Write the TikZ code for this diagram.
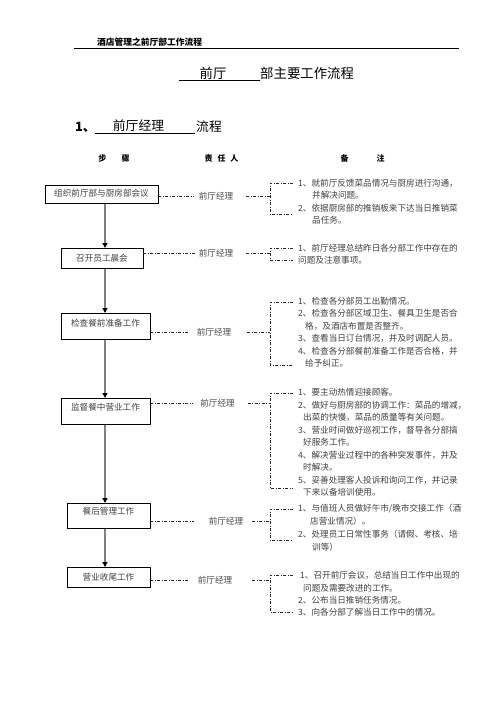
\documentclass[tikz,border=0pt]{standalone}
\usepackage{fontspec}
\setmainfont{Noto Sans CJK SC}
\usetikzlibrary{arrows.meta,positioning,calc}

\begin{document}
\begin{tikzpicture}[x=1pt, y=-1pt,
                    every node/.style = {inner sep=0pt},
                    stepbox/.style = {rectangle, draw=black, line width=0.6pt, anchor=north,
                            text=black!75, font=\fontsize{8.6}{10}\selectfont},
                    person/.style = {text=black!70, font=\fontsize{8.6}{10}\selectfont},
                    remark/.style = {anchor=north west, align=left, text=black!75,
                            font=\fontsize{8.6}{#1}\selectfont},
                    remark/.default = 12.4,
                    flow/.style = {draw=black!50, line width=1.8pt, -{Triangle[length=5pt,width=5pt,black]}},
                    linkline/.style = {draw=black!85, line width=0.5pt,
                            dash pattern=on 3pt off 1.5pt on 1pt off 1.5pt},
                    colhead/.style = {font=\fontsize{8}{10}\selectfont\bfseries} ]

                \useasboundingbox (0,0) rectangle (496,702);
                \fill[white] (0,0) rectangle (496,702);

                % page head
                \node [font=\fontsize{8.75}{10}\selectfont\bfseries] (pagehead) at (149.5,42) {酒店管理之前厅部工作流程};
                \draw [line width=0.6pt] (74,48) -- (459,48);

                % title
                \node [font=\fontsize{13.4}{15}\selectfont] (titledept) at (213,73.5) {前厅};
                \node [font=\fontsize{13.4}{15}\selectfont, anchor=west] (titlerest) at (260,73.5) {部主要工作流程};
                \draw [line width=0.6pt] (179,80) -- (260,80);

                % section
                \node [font=\fontsize{12.8}{15}\selectfont\bfseries, anchor=west] (secno) at (75,127) {1、};
                \node [font=\fontsize{12.8}{15}\selectfont] (secrole) at (138.5,126) {前厅经理};
                \node [font=\fontsize{12.8}{15}\selectfont, anchor=west] (secrest) at (196,126.5) {流程};
                \draw [line width=0.6pt] (95,133) -- (195,133);

                % column heads
                \node [colhead] (hstep) at (114,158) {步\hspace{1.9em}骤};
                \node [colhead] (hrole) at (221.5,158) {责\hspace{0.6em}任\hspace{0.6em}人};
                \node [colhead] (hnote) at (362.5,158) {备\hspace{3.5em}注};

                \coordinate (axis) at (105,0);
                \coordinate (brace) at (270,0);

                % steps
                \node [stepbox, minimum width=113pt, text height=11.2pt, text depth=6.8pt] (b1) at (101.5,185) {组织前厅部与厨房部会议};
                \node [stepbox, minimum width=82pt, text height=13.2pt, text depth=6.8pt] (b2) at (102,248) {召开员工晨会};
                \node [stepbox, minimum width=89pt, text height=13.2pt, text depth=12.8pt] (b3) at (105.5,313) {检查餐前准备工作};
                \node [stepbox, minimum width=89pt, text height=12.2pt, text depth=13.8pt] (b4) at (105.5,398) {监督餐中营业工作};
                \node [stepbox, minimum width=83pt, text height=11.2pt, text depth=13.8pt] (b5) at (108.5,503) {餐后管理工作};
                \node [stepbox, minimum width=83pt, text height=13.2pt, text depth=6.8pt] (b6) at (108.5,567) {营业收尾工作};

                \draw [flow] (b1.south -| axis) -- (b2.north -| axis);
                \draw [flow] (b2.south -| axis) -- (b3.north -| axis);
                \draw [flow] (b3.south -| axis) -- (b4.north -| axis);
                \draw [flow] (b4.south -| axis) -- (b5.north -| axis);
                \draw [flow] (b5.south -| axis) -- (b6.north -| axis);

                % responsible
                \node [person] (p1) at (216,196) {前厅经理};
                \node [person] (p2) at (216,253) {前厅经理};
                \node [person] (p3) at (214,332) {前厅经理};
                \node [person] (p4) at (217.5,403) {前厅经理};
                \node [person] (p5) at (226,521) {前厅经理};
                \node [person] (p6) at (215,580.5) {前厅经理};

                \draw [linkline, shorten >=5pt] (b1.east |- p1) -- (p1.west);
                \draw [linkline, shorten >=3pt] (b2.east |- p2) -- (p2.west);
                \draw [linkline, shorten >=9pt] (b3.east |- p3) -- (p3.west);
                \draw [linkline, shorten >=7pt] (b4.east |- p4) -- (p4.west);
                \draw [linkline, shorten >=15pt] (b5.east |- p5) -- (p5.west);
                \draw [linkline, shorten >=10pt] (b6.east |- p6) -- (p6.west);

                \draw [linkline, shorten <=13pt] (p1.east) -- (p1.east -| brace);
                \draw [linkline, shorten <=13pt] (p2.east) -- (p2.east -| brace);
                \draw [linkline, shorten <=16pt] (p3.east) -- (p3.east -| brace);
                \draw [linkline, shorten <=13pt] (p4.east) -- (p4.east -| brace);
                \draw [linkline, shorten <=9pt] (p5.east) -- (p5.east -| brace);
                \draw [linkline, shorten <=20pt] (p6.east) -- (p6.east -| brace);

                % brackets
                \coordinate (t1) at (293,183); \coordinate (u1) at (293,214);
                \coordinate (t2) at (293,248); \coordinate (u2) at (293,260);
                \coordinate (t3) at (293,302); \coordinate (u3) at (293,365);
                \coordinate (t4) at (293,393); \coordinate (u4) at (293,488);
                \coordinate (t5) at (293,509); \coordinate (u5) at (293,540);
                \coordinate (t6) at (293,575); \coordinate (u6) at (293,612);
                \foreach \i in {1,...,6}
                    \draw [linkline] (t\i) -- (t\i -| brace) -- (u\i -| brace) -- (u\i);

                % remarks
                \node [remark] (r1) at (298,179.1) {1、就前厅反馈菜品情况与厨房进行沟通，\\
                    \hspace*{14pt}并解决问题。\\
                    2、依据厨房部的推销板来下达当日推销菜\\
                    \hspace*{14pt}品任务。};
                \node [remark] (r2) at (298,244.1) {1、前厅经理总结昨日各分部工作中存在的\\
                    问题及注意事项。};
                \node [remark] (r3) at (298,297) {1、检查各分部员工出勤情况。\\
                    2、检查各分部区域卫生、餐具卫生是否合\\
                    \hspace*{7pt}格，及酒店布置是否整齐。\\
                    3、查看当日订台情况，并及时调配人员。\\
                    4、检查各分部餐前准备工作是否合格，并\\
                    \hspace*{7pt}给予纠正。};
                \node [remark=12.5] (r4) at (298,388.3) {1、要主动热情迎接顾客。\\
                    2、做好与厨房部的协调工作：菜品的增减，\\
                    \hspace*{5pt}出菜的快慢，菜品的质量等有关问题。\\
                    3、营业时间做好巡视工作，督导各分部搞\\
                    \hspace*{5pt}好服务工作。\\
                    4、解决营业过程中的各种突发事件，并及\\
                    \hspace*{5pt}时解决。\\
                    5、妥善处理客人投诉和询问工作，并记录\\
                    \hspace*{5pt}下来以备培训使用。};
                \node [remark=13] (r5) at (298,504.3) {1、与值班人员做好午市/晚市交接工作（酒\\
                    \hspace*{12pt}店营业情况）。\\
                    2、处理员工日常性事务（请假、考核、培\\
                    \hspace*{14pt}训等）};
                \node [remark] (r6) at (298,571.3) {\hspace*{2pt}1、召开前厅会议，总结当日工作中出现的\\
                    \hspace*{5pt}问题及需要改进的工作。\\
                    2、公布当日推销任务情况。\\
                    3、向各分部了解当日工作中的情况。};

            \end{tikzpicture}
\end{document}
